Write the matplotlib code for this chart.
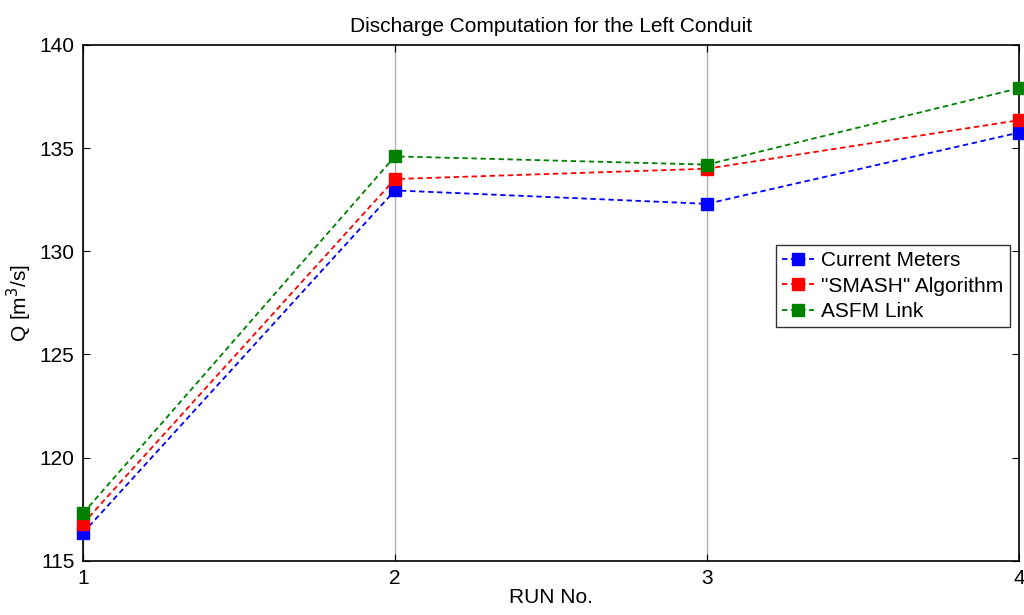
import matplotlib.pyplot as plt
import numpy as np

plt.rcParams.update({
    "font.family": ["Liberation Sans", "DejaVu Sans"],
    "font.size": 12,
})

runs = [1, 2, 3, 4]
current_meters = [116.35, 132.95, 132.3, 135.75]
smash = [116.8, 133.5, 134.0, 136.35]
asfm = [117.3, 134.6, 134.2, 137.9]

fig = plt.figure(figsize=(10.24, 6.15), dpi=100)
ax = fig.add_axes([0.081, 0.088, 0.914, 0.839])

series = [
    (current_meters, "#0000ff", "Current Meters"),
    (smash, "#ff0000", '"SMASH" Algorithm'),
    (asfm, "#008000", "ASFM Link"),
]
for vals, col, lab in series:
    ax.plot(runs, vals, linestyle="--", dashes=(3, 2), color=col, lw=1.3,
            marker="s", markersize=9, markerfacecolor=col, markeredgecolor=col,
            label=lab, clip_on=False, zorder=3)

ax.set_xlim(1, 4)
ax.set_ylim(115, 140)
ax.set_xticks(runs)
ax.set_yticks(np.arange(115, 141, 5))
ax.xaxis.grid(True, color="#b0b0b0", lw=1)
ax.tick_params(direction="in", top=True, right=True, length=5, labelsize=15, pad=6)
for s in ax.spines.values():
    s.set_linewidth(1.2)

ax.set_title("Discharge Computation for the Left Conduit", fontsize=15, pad=9)
ax.set_xlabel("RUN No.", fontsize=15, labelpad=0)
ax.set_ylabel("Q [m$^3$/s]", fontsize=15, labelpad=4)

leg = ax.legend(loc="upper right", bbox_to_anchor=(0.99, 0.612), fontsize=15,
                frameon=True, fancybox=False, edgecolor="black", handlelength=1.5,
                handletextpad=0.35, borderpad=0.3, labelspacing=0.3, borderaxespad=0)
leg.get_frame().set_linewidth(1.0)

fig.savefig("out.png", dpi=100)
